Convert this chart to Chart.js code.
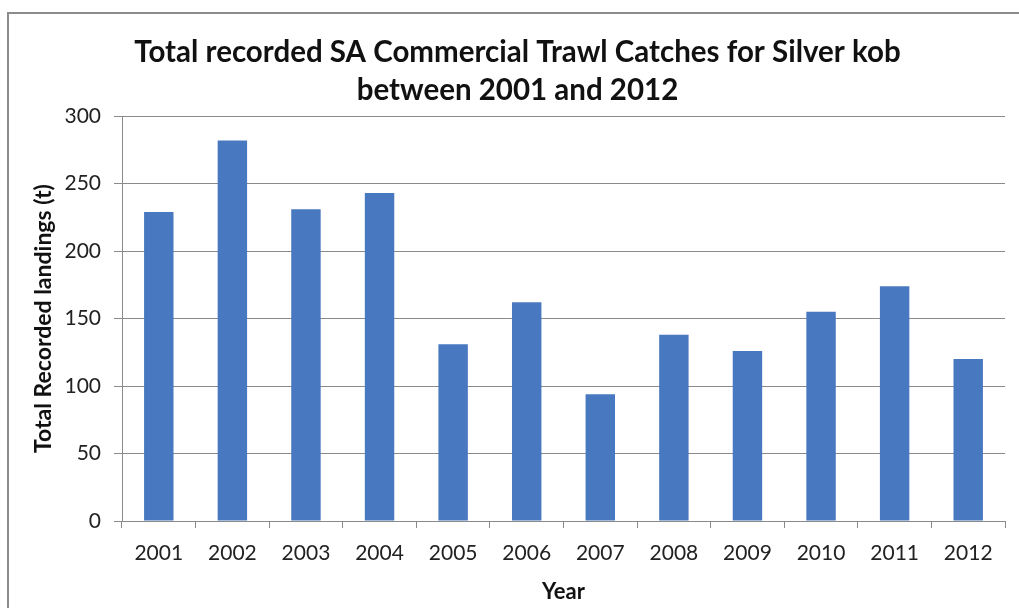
<!DOCTYPE html>
<html>
<head>
<meta charset="utf-8">
<script src="https://cdn.jsdelivr.net/npm/chart.js@4.4.1/dist/chart.umd.min.js"></script>
<style>
  html, body { margin: 0; padding: 0; background: #fff; }
  #wrap { position: relative; width: 1019px; height: 608px; }
  #frame { position: absolute; left: 7px; top: 12px; right: -2px; bottom: -2px;
           border-top: 2px solid #8c8c8c; border-left: 2px solid #8c8c8c; }
  canvas { position: absolute; left: 0; top: 0; }
</style>
</head>
<body>
<div id="wrap">
  <div id="frame"></div>
  <canvas id="kob" width="1019" height="608"></canvas>
</div>
<script>
// Silver kob trawl landings per year (tonnes)
const years = ['2001', '2002', '2003', '2004', '2005', '2006', '2007', '2008', '2009', '2010', '2011', '2012'];
const landings = [229, 282, 231, 243, 131, 162, 94, 138, 126, 155, 174, 120];
const yTicks = [0, 50, 100, 150, 200, 250, 300];

const FONT = 'Lato, "Open Sans", sans-serif';
const gridGrey = '#8a8a8a';
const PAD_LEFT = 30;

const ctx = document.getElementById('kob').getContext('2d');
new Chart(ctx, {
    type: 'bar',
    data: {
        labels: years,
        datasets: [{
            label: 'Landings',
            data: landings,
            backgroundColor: '#4878bf',
            borderWidth: 0,
            barPercentage: 0.4,
            categoryPercentage: 1.0
        }]
    },
    options: {
        responsive: false,
        animation: false,
        layout: { padding: { left: PAD_LEFT, right: 14, top: 0, bottom: 0 } },
        plugins: {
            legend: { display: false },
            tooltip: { enabled: false },
            title: {
                display: true,
                text: ['Total recorded SA Commercial Trawl Catches for Silver kob', 'between 2001 and 2012'],
                color: '#111',
                font: { family: FONT, size: 29.5, weight: 'bold', lineHeight: 1.29 },
                padding: { top: 33, bottom: 7 }
            }
        },
        scales: {
            x: {
                grid: {
                    display: true,
                    drawOnChartArea: false,
                    drawTicks: true,
                    tickLength: 7,
                    color: gridGrey,
                    offset: true
                },
                border: { display: true, color: gridGrey, width: 1 },
                ticks: {
                    color: '#222',
                    font: { family: FONT, size: 21 },
                    padding: 13,
                    maxRotation: 0
                },
                title: {
                    display: true,
                    text: 'Year',
                    color: '#111',
                    font: { family: FONT, size: 22, weight: 'bold' },
                    padding: { top: 0, bottom: 3 }
                },
                afterFit: (scale) => { scale.height = 87; }
            },
            y: {
                min: 0,
                max: 300,
                afterBuildTicks: (scale) => { scale.ticks = yTicks.map(v => ({ value: v })); },
                grid: {
                    color: gridGrey,
                    lineWidth: 1,
                    tickLength: 8
                },
                border: { display: true, color: gridGrey, width: 1 },
                ticks: {
                    color: '#222',
                    font: { family: FONT, size: 21 },
                    padding: 13
                },
                title: {
                    display: true,
                    text: 'Total Recorded landings (t)',
                    color: '#111',
                    font: { family: FONT, size: 23, weight: 'bold' },
                    padding: { top: 0, bottom: 0 }
                },
                afterFit: (scale) => { scale.width = 122 - PAD_LEFT; }
            }
        }
    }
});
</script>
</body>
</html>
